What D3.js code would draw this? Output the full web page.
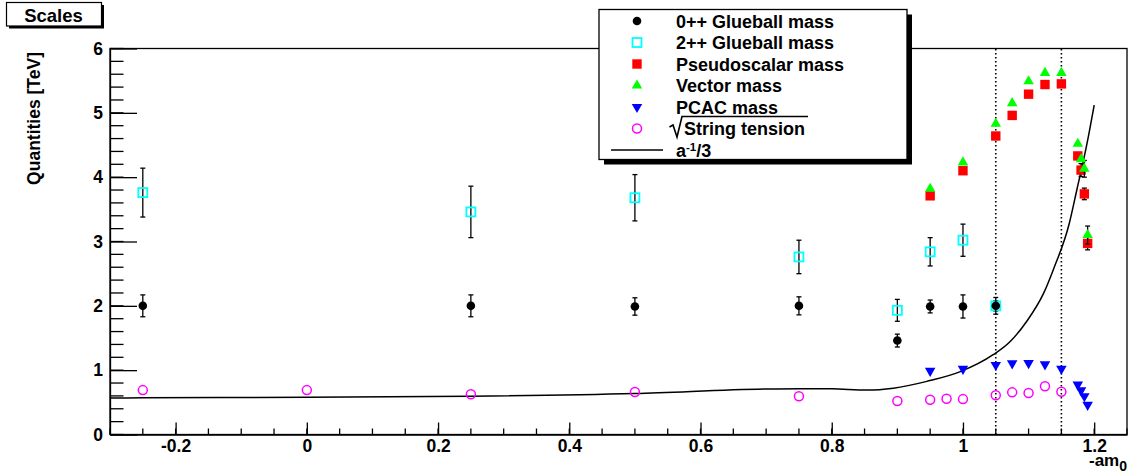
<!DOCTYPE html>
<html><head><meta charset="utf-8">
<script src="https://cdn.jsdelivr.net/npm/d3@7"></script>
<style>
html,body{margin:0;padding:0;background:#fff;}
svg{display:block;font-family:"Liberation Sans",Arial,sans-serif;font-weight:bold;}
</style></head>
<body><svg id="c" width="1132" height="474"></svg>
<script>
// ---- data ----
const xTicks = [-0.2, 0, 0.2, 0.4, 0.6, 0.8, 1, 1.2];
const xTickLabels = ["-0.2", "0", "0.2", "0.4", "0.6", "0.8", "1", "1.2"];
const yTicks = [0, 1, 2, 3, 4, 5, 6];
const yTickLabels = ["0", "1", "2", "3", "4", "5", "6"];

const xGlue = [-0.25, 0.25, 0.5, 0.75, 0.9, 0.95, 1.0, 1.05];
const glue0 = [2.0, 2.0, 1.99, 2.0, 1.46, 1.99, 1.99, 2.0];
const glue0Err = [0.17, 0.17, 0.135, 0.14, 0.1, 0.1, 0.18, 0.13];
const glue2 = [3.76, 3.46, 3.68, 2.76, 1.93, 2.84, 3.02, 2.0];
const glue2Err = [0.38, 0.4, 0.36, 0.26, 0.17, 0.22, 0.25, 0.08];

const xMeson = [0.95, 1.0, 1.05, 1.075, 1.1, 1.125, 1.15, 1.175, 1.18, 1.185, 1.19];
const pseudo = [3.71, 4.1, 4.64, 4.96, 5.29, 5.44, 5.45, 4.33, 4.11, 3.74, 2.97];
const pseudoErr = [0, 0, 0, 0, 0, 0, 0, 0.03, 0.1, 0.09, 0.1];
const vector = [3.82, 4.23, 4.83, 5.15, 5.49, 5.62, 5.62, 4.52, 4.28, 4.13, 3.1];
const vectorErr = [0, 0, 0, 0, 0, 0, 0, 0, 0, 0.13, 0.14];
const pcac = [0.99, 1.02, 1.08, 1.105, 1.11, 1.09, 1.02, 0.775, 0.687, 0.594, 0.46];

const xString = [-0.25, 0, 0.25, 0.5, 0.75, 0.9, 0.95, 0.975, 1.0, 1.05, 1.075, 1.1, 1.125, 1.15];
const stringTension = [0.69, 0.69, 0.625, 0.66, 0.595, 0.52, 0.54, 0.555, 0.55, 0.61, 0.655, 0.645, 0.75, 0.665];

const xCurve = [-0.3, -0.25, 0, 0.25, 0.5, 0.7, 0.75, 0.8, 0.854, 0.894, 0.945, 0.996, 1.046, 1.072, 1.097, 1.123, 1.138, 1.162, 1.1735, 1.189, 1.2];
const aInv3 = [0.568, 0.57, 0.58, 0.594, 0.636, 0.708, 0.713, 0.71, 0.69, 0.72, 0.826, 0.977, 1.24, 1.447, 1.757, 2.197, 2.57, 3.28, 3.80, 4.52, 5.12];

const vLines = [1.05, 1.15];

const legendLabels = ["0++ Glueball mass", "2++ Glueball mass", "Pseudoscalar mass", "Vector mass", "PCAC mass", "String tension", "a"];

// ---- layout ----
const L = 110, R = 1127, T = 48.5, B = 434.5;
const svg = d3.select("#c");
const x = d3.scaleLinear().domain([-0.3, 1.25]).range([L, R]);
const y = d3.scaleLinear().domain([0, 6]).range([B, T]);
const LW = 1.3;

// frame
svg.append("rect").attr("x", L).attr("y", T).attr("width", R - L).attr("height", B - T)
  .attr("fill", "none").attr("stroke", "#000").attr("stroke-width", LW);

// minor ticks
const xMinor = d3.range(-6, 26).map(i => i * 0.05).filter(v => v > -0.3001 && v < 1.2501);
svg.append("g").selectAll("line").data(xMinor).join("line")
  .attr("x1", d => x(d)).attr("x2", d => x(d)).attr("y1", B).attr("y2", B - 6)
  .attr("stroke", "#000").attr("stroke-width", LW);
const yMinor = d3.range(0, 31).map(i => i * 0.2);
svg.append("g").selectAll("line").data(yMinor).join("line")
  .attr("x1", L).attr("x2", L + 13.5).attr("y1", d => y(d)).attr("y2", d => y(d))
  .attr("stroke", "#000").attr("stroke-width", LW);

// axes
const xAxis = d3.axisBottom(x).tickValues(xTicks).tickFormat((d, i) => xTickLabels[i])
  .tickSizeInner(-12).tickSizeOuter(0).tickPadding(5.5);
const gx = svg.append("g").attr("transform", `translate(0,${B})`).call(xAxis);
const yAxis = d3.axisLeft(y).tickValues(yTicks).tickFormat((d, i) => yTickLabels[i])
  .tickSizeInner(-27).tickSizeOuter(0).tickPadding(7);
const gy = svg.append("g").attr("transform", `translate(${L},0)`).call(yAxis);
[gx, gy].forEach(g => {
  g.select(".domain").attr("stroke", "#000").attr("stroke-width", LW);
  g.selectAll(".tick line").attr("stroke", "#000").attr("stroke-width", LW);
  g.selectAll(".tick text").attr("fill", "#000").attr("font-size", 17.5)
    .attr("font-family", "Liberation Sans, Arial, sans-serif").attr("font-weight", "bold");
});

// axis titles
svg.append("text").attr("transform", "translate(40,52) rotate(-90)").attr("text-anchor", "end")
  .attr("font-size", 17.5).text("Quantities [TeV]");
const xt = svg.append("text").attr("x", R).attr("y", 466).attr("text-anchor", "end").attr("font-size", 17);
xt.append("tspan").text("-am");
xt.append("tspan").attr("dy", 5).attr("font-size", 14).text("0");

// dotted vertical lines
svg.append("g").selectAll("line").data(vLines).join("line")
  .attr("x1", d => x(d)).attr("x2", d => x(d)).attr("y1", B).attr("y2", T)
  .attr("stroke", "#000").attr("stroke-width", 1.6).attr("stroke-dasharray", "1.6,2.4");

// curve
const curve = d3.line().x(d => x(d[0])).y(d => y(d[1])).curve(d3.curveMonotoneX);
svg.append("path").datum(xCurve.map((v, i) => [v, aInv3[i]])).attr("d", curve)
  .attr("fill", "none").attr("stroke", "#000").attr("stroke-width", 1.5);

// error bars helper
function errBars(xs, ys, es) {
  const d = xs.map((v, i) => ({ x: v, y: ys[i], e: es[i] })).filter(o => o.e > 0);
  const g = svg.append("g").attr("stroke", "#000").attr("stroke-width", 1.3);
  g.selectAll("line.v").data(d).join("line").attr("class", "v")
    .attr("x1", o => x(o.x)).attr("x2", o => x(o.x)).attr("y1", o => y(o.y - o.e)).attr("y2", o => y(o.y + o.e));
  g.selectAll("line.t").data(d).join("line").attr("class", "t")
    .attr("x1", o => x(o.x) - 2.5).attr("x2", o => x(o.x) + 2.5).attr("y1", o => y(o.y + o.e)).attr("y2", o => y(o.y + o.e));
  g.selectAll("line.b").data(d).join("line").attr("class", "b")
    .attr("x1", o => x(o.x) - 2.5).attr("x2", o => x(o.x) + 2.5).attr("y1", o => y(o.y - o.e)).attr("y2", o => y(o.y - o.e));
}

// marker drawers
const triPath = d3.symbol(d3.symbolTriangle, 48)();
function drawMarker(g, kind, cx, cy) {
  if (kind === "fcircle") g.append("circle").attr("cx", cx).attr("cy", cy).attr("r", 4.3).attr("fill", "#000");
  else if (kind === "osquare") g.append("rect").attr("x", cx - 4.5).attr("y", cy - 4.5).attr("width", 9).attr("height", 9)
    .attr("fill", "none").attr("stroke", "#00ffff").attr("stroke-width", 1.8);
  else if (kind === "fsquare") g.append("rect").attr("x", cx - 4.7).attr("y", cy - 4.7).attr("width", 9.4).attr("height", 9.4).attr("fill", "#ff0000");
  else if (kind === "utri") g.append("path").attr("d", triPath).attr("transform", `translate(${cx},${cy})`).attr("fill", "#00ff00");
  else if (kind === "dtri") g.append("path").attr("d", triPath).attr("transform", `translate(${cx},${cy}) rotate(180)`).attr("fill", "#0000ff");
  else if (kind === "ocircle") g.append("circle").attr("cx", cx).attr("cy", cy).attr("r", 4.5)
    .attr("fill", "none").attr("stroke", "#ff00ff").attr("stroke-width", 1.5);
}
function series(xs, ys, kind) {
  const g = svg.append("g");
  xs.forEach((v, i) => drawMarker(g, kind, x(v), y(ys[i])));
}

errBars(xGlue, glue2, glue2Err);
series(xGlue, glue2, "osquare");
errBars(xGlue, glue0, glue0Err);
series(xGlue, glue0, "fcircle");
errBars(xMeson, pseudo, pseudoErr);
series(xMeson, pseudo, "fsquare");
errBars(xMeson, vector, vectorErr);
series(xMeson, vector, "utri");
series(xMeson, pcac, "dtri");
series(xString, stringTension, "ocircle");

// ---- legend ----
const lg = svg.append("g");
const lx0 = 599, ly0 = 9.5, lx1 = 907, ly1 = 159.5;
lg.append("rect").attr("x", lx0 + 5).attr("y", ly0 + 5).attr("width", lx1 - lx0).attr("height", ly1 - ly0).attr("fill", "#000");
lg.append("rect").attr("x", lx0).attr("y", ly0).attr("width", lx1 - lx0).attr("height", ly1 - ly0)
  .attr("fill", "#fff").attr("stroke", "#000").attr("stroke-width", 1.3);
const rowY = [21, 42.5, 64, 85.5, 107, 128.5, 150];
const kinds = ["fcircle", "osquare", "fsquare", "utri", "dtri", "ocircle"];
kinds.forEach((k, i) => drawMarker(lg, k, 637, rowY[i]));
lg.append("line").attr("x1", 611).attr("x2", 663).attr("y1", rowY[6]).attr("y2", rowY[6]).attr("stroke", "#000").attr("stroke-width", 1.5);
legendLabels.forEach((t, i) => {
  if (i === 5) {
    lg.append("text").attr("x", 684).attr("y", rowY[i] + 6.5).attr("font-size", 18).text(t);
    lg.append("path").attr("d", "M669.5,127 L673,125 L677,137 L682,116.5 L808,116.5")
      .attr("fill", "none").attr("stroke", "#000").attr("stroke-width", 1.6);
  } else if (i === 6) {
    const tt = lg.append("text").attr("x", 676).attr("y", rowY[i] + 6.5).attr("font-size", 18);
    tt.append("tspan").text("a");
    tt.append("tspan").attr("dy", -6).attr("font-size", 11.5).text("-1");
    tt.append("tspan").attr("dy", 6).text("/3");
  } else {
    lg.append("text").attr("x", 676).attr("y", rowY[i] + 6.5).attr("font-size", 18).text(t);
  }
});

// ---- title box ----
svg.append("rect").attr("x", 9).attr("y", 5).attr("width", 95).attr("height", 23.5).attr("fill", "#000");
svg.append("rect").attr("x", 6.5).attr("y", 2.5).attr("width", 95).attr("height", 23.5)
  .attr("fill", "#fff").attr("stroke", "#000").attr("stroke-width", 1.2);
svg.append("text").attr("x", 53.5).attr("y", 21.5).attr("text-anchor", "middle").attr("font-size", 18.5).text("Scales");
</script></body></html>
